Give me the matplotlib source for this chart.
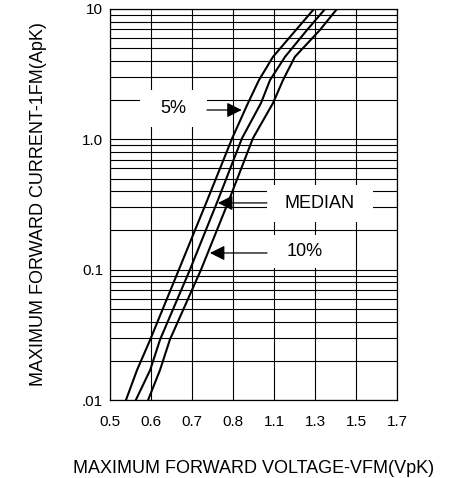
import matplotlib.pyplot as plt
import numpy as np
from matplotlib.patches import Rectangle

plt.rcParams['font.family'] = ['Liberation Sans', 'DejaVu Sans']

# x axis is not linear: the ticks below are drawn evenly spaced
tick_v = [0.5, 0.6, 0.7, 0.8, 1.1, 1.3, 1.5, 1.7]
tick_lbl = ['0.5', '0.6', '0.7', '0.8', '1.1', '1.3', '1.5', '1.7']
y_ticks = [0.01, 0.1, 1.0, 10]
y_lbl = ['.01', '0.1', '1.0', '10']

# forward current (A)
amps = [0.010, 0.017, 0.029, 0.10, 0.34, 1.02, 1.9, 2.85, 4.3, 6.9, 10]
# forward voltage (V) for each curve
v_5pct = [0.539, 0.566, 0.598, 0.668, 0.737, 0.798, 0.910, 0.990, 1.093, 1.207, 1.295]
v_median = [0.563, 0.598, 0.622, 0.695, 0.763, 0.866, 1.005, 1.071, 1.154, 1.261, 1.349]
v_10pct = [0.593, 0.622, 0.646, 0.722, 0.790, 0.946, 1.093, 1.144, 1.202, 1.324, 1.407]

pos = np.arange(len(tick_v))


def fwd(v):
    return np.interp(v, tick_v, pos)


def inv(p):
    return np.interp(p, pos, tick_v)


fig = plt.figure(figsize=(4.63, 4.78), dpi=100)
ax = fig.add_axes([110 / 463, 1 - 400 / 478, 287 / 463, 391 / 478])
ax.set_xscale('function', functions=(fwd, inv))
ax.set_yscale('log')
ax.set_xlim(0.5, 1.7)
ax.set_ylim(0.01, 10)

ax.set_xticks(tick_v)
ax.set_xticklabels(tick_lbl)
ax.set_yticks(y_ticks)
ax.set_yticklabels(y_lbl)
ax.minorticks_off()
ax.set_yticks([m * d for d in [0.01, 0.1, 1] for m in range(2, 10)], minor=True)
ax.tick_params(which='both', length=0)
ax.tick_params(axis='x', pad=11, labelsize=11)
ax.tick_params(axis='y', pad=5, labelsize=11)

ax.set_axisbelow(True)
ax.grid(True, which='both', color='black', lw=0.8)
for s in ax.spines.values():
    s.set_linewidth(0.9)

for v in (v_5pct, v_median, v_10pct):
    ax.plot(v, amps, color='black', lw=1.5, zorder=5)

# white label boxes that break the grid
boxes = [(0.1045, 0.698, 0.2334, 0.0946),
         (0.547, 0.455, 0.369, 0.0946),
         (0.547, 0.3376, 0.265, 0.0844)]
for x0, y0, w, h in boxes:
    ax.add_patch(Rectangle((x0, y0), w, h, transform=ax.transAxes,
                           facecolor='white', edgecolor='none', zorder=3))

ax.text(0.221, 0.745, '5%', transform=ax.transAxes, ha='center', va='center', fontsize=13, zorder=4)
ax.text(0.7317, 0.5026, 'MEDIAN', transform=ax.transAxes, ha='center', va='center', fontsize=13, zorder=4)
ax.text(0.679, 0.3798, '10%', transform=ax.transAxes, ha='center', va='center', fontsize=13, zorder=4)

arr = dict(arrowstyle='-|>,head_length=0.9,head_width=0.45', color='black', lw=0.9,
           shrinkA=0, shrinkB=0)
ax.annotate('', xy=(0.459, 0.7417), xytext=(0.338, 0.7417), xycoords='axes fraction', arrowprops=arr, zorder=6)
ax.annotate('', xy=(0.376, 0.504), xytext=(0.547, 0.504), xycoords='axes fraction', arrowprops=arr, zorder=6)
ax.annotate('', xy=(0.348, 0.376), xytext=(0.547, 0.376), xycoords='axes fraction', arrowprops=arr, zorder=6)

ax.set_xlabel('MAXIMUM FORWARD VOLTAGE-VFM(VpK)', fontsize=13, labelpad=22)
ax.set_ylabel('MAXIMUM FORWARD CURRENT-1FM(ApK)', fontsize=13, labelpad=25)

plt.savefig('out.png', dpi=100)
